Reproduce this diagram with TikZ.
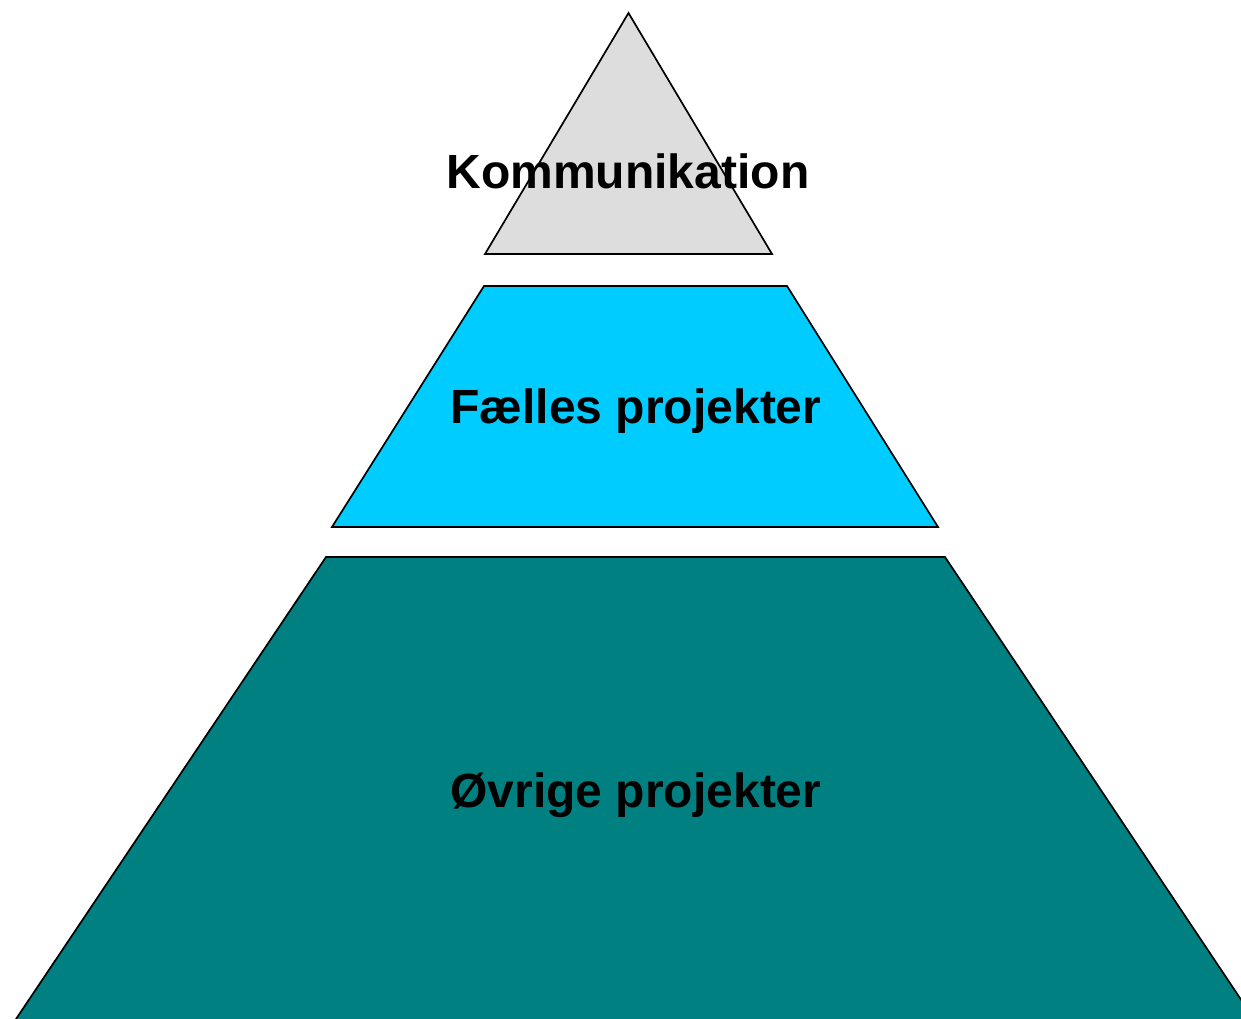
\documentclass[tikz,border=0pt]{standalone}
\usepackage{fontspec}
\setmainfont{Liberation Sans}
\definecolor{topgray}{HTML}{DDDDDD}
\definecolor{midcyan}{HTML}{00CCFF}
\definecolor{botteal}{HTML}{008080}
\begin{document}
\begin{tikzpicture}[x=1pt,y=-1pt,
  layer/.style={draw=black,line width=1.7pt,line join=miter},
  lbl/.style={font=\fontsize{48}{56}\selectfont\bfseries,anchor=base,inner sep=0pt}]
\useasboundingbox (0,0) rectangle (1241,1019);
\begin{scope}
\clip (0,0) rectangle (1241,1019);
\draw[layer,fill=botteal] (326,557) -- (945,557) -- (1256,1022) -- (14,1022) -- cycle;
\end{scope}
\draw[layer,fill=midcyan] (484,286) -- (787,286) -- (938,527) -- (332,527) -- cycle;
\draw[layer,fill=topgray] (628.5,13) -- (772,254) -- (485,254) -- cycle;
\node[lbl] (komm) at (628,189) {Kommunikation};
\node[lbl] (faelles) at (636,423) {Fælles projekter};
\node[lbl] (ovrige) at (636,807) {Øvrige projekter};
\end{tikzpicture}
\end{document}
